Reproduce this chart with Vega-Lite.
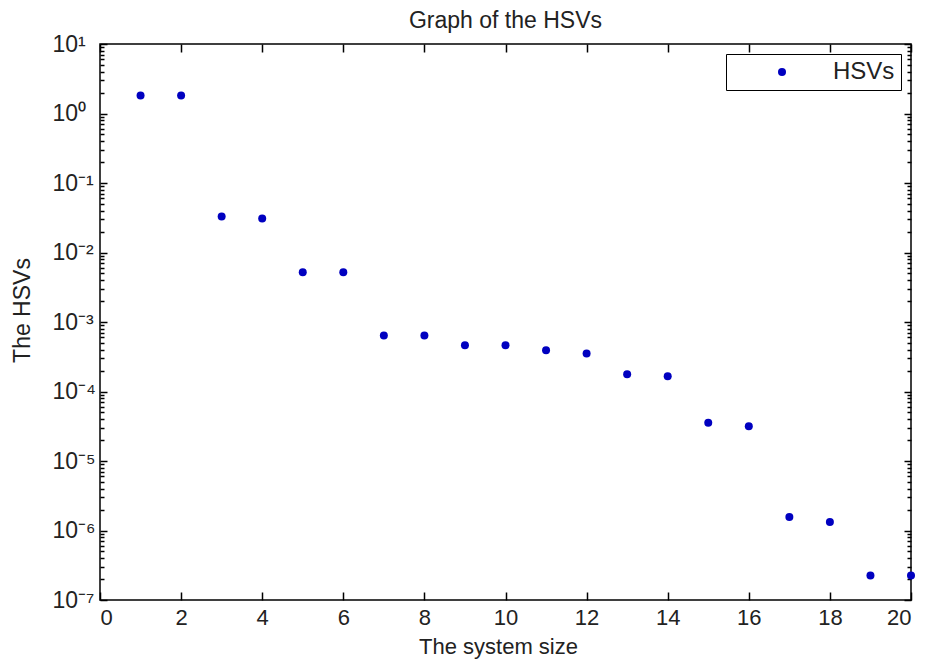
{
  "$schema": "https://vega.github.io/schema/vega-lite/v6.json",
  "autosize": {"type": "none"},
  "padding": {"left": 100, "top": 44, "right": 19, "bottom": 60},
  "width": 811,
  "height": 556,
  "background": "white",
  "title": {"text": "Graph of the HSVs", "font": "Liberation Sans", "fontSize": 23, "fontWeight": "normal", "color": "#222", "anchor": "middle", "baseline": "alphabetic", "offset": -18},
  "config": {
    "view": {"stroke": "black", "strokeWidth": 1.5},
    "axis": {"grid": false, "domain": false, "labelFont": "Liberation Sans", "labelFontSize": 23, "labelColor": "#222", "titleFont": "Liberation Sans", "titleFontSize": 23, "titleFontWeight": "normal", "titleColor": "#222", "tickColor": "black", "tickWidth": 1.5}
  },
  "data": {"values": [
    {"n": 1, "hsv": 1.82, "series": "HSVs"},
    {"n": 2, "hsv": 1.81, "series": "HSVs"},
    {"n": 3, "hsv": 0.033, "series": "HSVs"},
    {"n": 4, "hsv": 0.0308, "series": "HSVs"},
    {"n": 5, "hsv": 0.0052, "series": "HSVs"},
    {"n": 6, "hsv": 0.0052, "series": "HSVs"},
    {"n": 7, "hsv": 0.00064, "series": "HSVs"},
    {"n": 8, "hsv": 0.00064, "series": "HSVs"},
    {"n": 9, "hsv": 0.000463, "series": "HSVs"},
    {"n": 10, "hsv": 0.000463, "series": "HSVs"},
    {"n": 11, "hsv": 0.000393, "series": "HSVs"},
    {"n": 12, "hsv": 0.000352, "series": "HSVs"},
    {"n": 13, "hsv": 0.000177, "series": "HSVs"},
    {"n": 14, "hsv": 0.000166, "series": "HSVs"},
    {"n": 15, "hsv": 0.0000355, "series": "HSVs"},
    {"n": 16, "hsv": 0.0000317, "series": "HSVs"},
    {"n": 17, "hsv": 0.00000156, "series": "HSVs"},
    {"n": 18, "hsv": 0.00000133, "series": "HSVs"},
    {"n": 19, "hsv": 0.000000225, "series": "HSVs"},
    {"n": 20, "hsv": 0.000000225, "series": "HSVs"}
  ]},
  "layer": [
    {
      "mark": {"type": "point", "filled": true, "opacity": 1, "size": 64, "shape": "circle"},
      "encoding": {
        "x": {"field": "n", "type": "quantitative", "scale": {"domain": [0, 20], "nice": false, "zero": false},
          "axis": {"orient": "bottom", "title": "The system size", "values": [0,2,4,6,8,10,12,14,16,18,20], "tickSize": -8, "labelFontSize": 22, "labelPadding": 15, "titleFontSize": 22, "titleX": 398, "titleY": 53, "titleBaseline": "alphabetic", "titleAnchor": "middle", "titleAlign": "center"}},
        "y": {"field": "hsv", "type": "quantitative", "scale": {"type": "log", "domain": [1e-7, 10], "nice": false},
          "axis": {"orient": "left", "title": "The HSVs", "titleX": -78, "titleY": 266, "titleBaseline": "middle", "titleAlign": "center", "titleAngle": -90,
            "values": [1e-7,2e-7,3e-7,4e-7,5e-7,6e-7,7e-7,8e-7,9e-7,1e-6,2e-6,3e-6,4e-6,5e-6,6e-6,7e-6,8e-6,9e-6,1e-5,2e-5,3e-5,4e-5,5e-5,6e-5,7e-5,8e-5,9e-5,1e-4,2e-4,3e-4,4e-4,5e-4,6e-4,7e-4,8e-4,9e-4,1e-3,2e-3,3e-3,4e-3,5e-3,6e-3,7e-3,8e-3,9e-3,1e-2,2e-2,3e-2,4e-2,5e-2,6e-2,7e-2,8e-2,9e-2,0.1,0.2,0.3,0.4,0.5,0.6,0.7,0.8,0.9,1,2,3,4,5,6,7,8,9,10],
            "labelExpr": "abs(log(datum.value)/LN10 - round(log(datum.value)/LN10)) < 0.001 ? '10' + (round(log(datum.value)/LN10) < 0 ? '⁻' : '') + substring('⁰¹²³⁴⁵⁶⁷⁸⁹', abs(round(log(datum.value)/LN10)), abs(round(log(datum.value)/LN10)) + 1) : ''",
            "tickSize": {"condition": {"test": "abs(log(datum.value)/LN10 - round(log(datum.value)/LN10)) < 0.001", "value": -7}, "value": -4},
            "labelAlign": "left",
            "labelPadding": 55}},
        "color": {"field": "series", "type": "nominal", "scale": {"range": ["#0000c0"]},
          "legend": {"title": null, "orient": "top-right", "offset": 10, "strokeColor": "black", "fillColor": "white", "padding": 6, "symbolOffset": 38, "labelOffset": 39, "labelFont": "Liberation Sans", "labelFontSize": 24, "labelColor": "#222", "symbolSize": 64, "symbolType": "circle"}}
      }
    },
    {
      "mark": {"type": "point", "filled": true, "opacity": 0},
      "encoding": {
        "x": {"field": "n", "type": "quantitative",
          "axis": {"orient": "top", "title": null, "labels": false, "values": [0,2,4,6,8,10,12,14,16,18,20], "tickSize": -8}},
        "y": {"field": "hsv", "type": "quantitative",
          "axis": {"orient": "right", "title": null, "labels": false,
            "values": [1e-7,2e-7,3e-7,4e-7,5e-7,6e-7,7e-7,8e-7,9e-7,1e-6,2e-6,3e-6,4e-6,5e-6,6e-6,7e-6,8e-6,9e-6,1e-5,2e-5,3e-5,4e-5,5e-5,6e-5,7e-5,8e-5,9e-5,1e-4,2e-4,3e-4,4e-4,5e-4,6e-4,7e-4,8e-4,9e-4,1e-3,2e-3,3e-3,4e-3,5e-3,6e-3,7e-3,8e-3,9e-3,1e-2,2e-2,3e-2,4e-2,5e-2,6e-2,7e-2,8e-2,9e-2,0.1,0.2,0.3,0.4,0.5,0.6,0.7,0.8,0.9,1,2,3,4,5,6,7,8,9,10],
            "tickSize": {"condition": {"test": "abs(log(datum.value)/LN10 - round(log(datum.value)/LN10)) < 0.001", "value": -7}, "value": -4}}}
      }
    }
  ],
  "resolve": {"axis": {"x": "independent", "y": "independent"}}
}
